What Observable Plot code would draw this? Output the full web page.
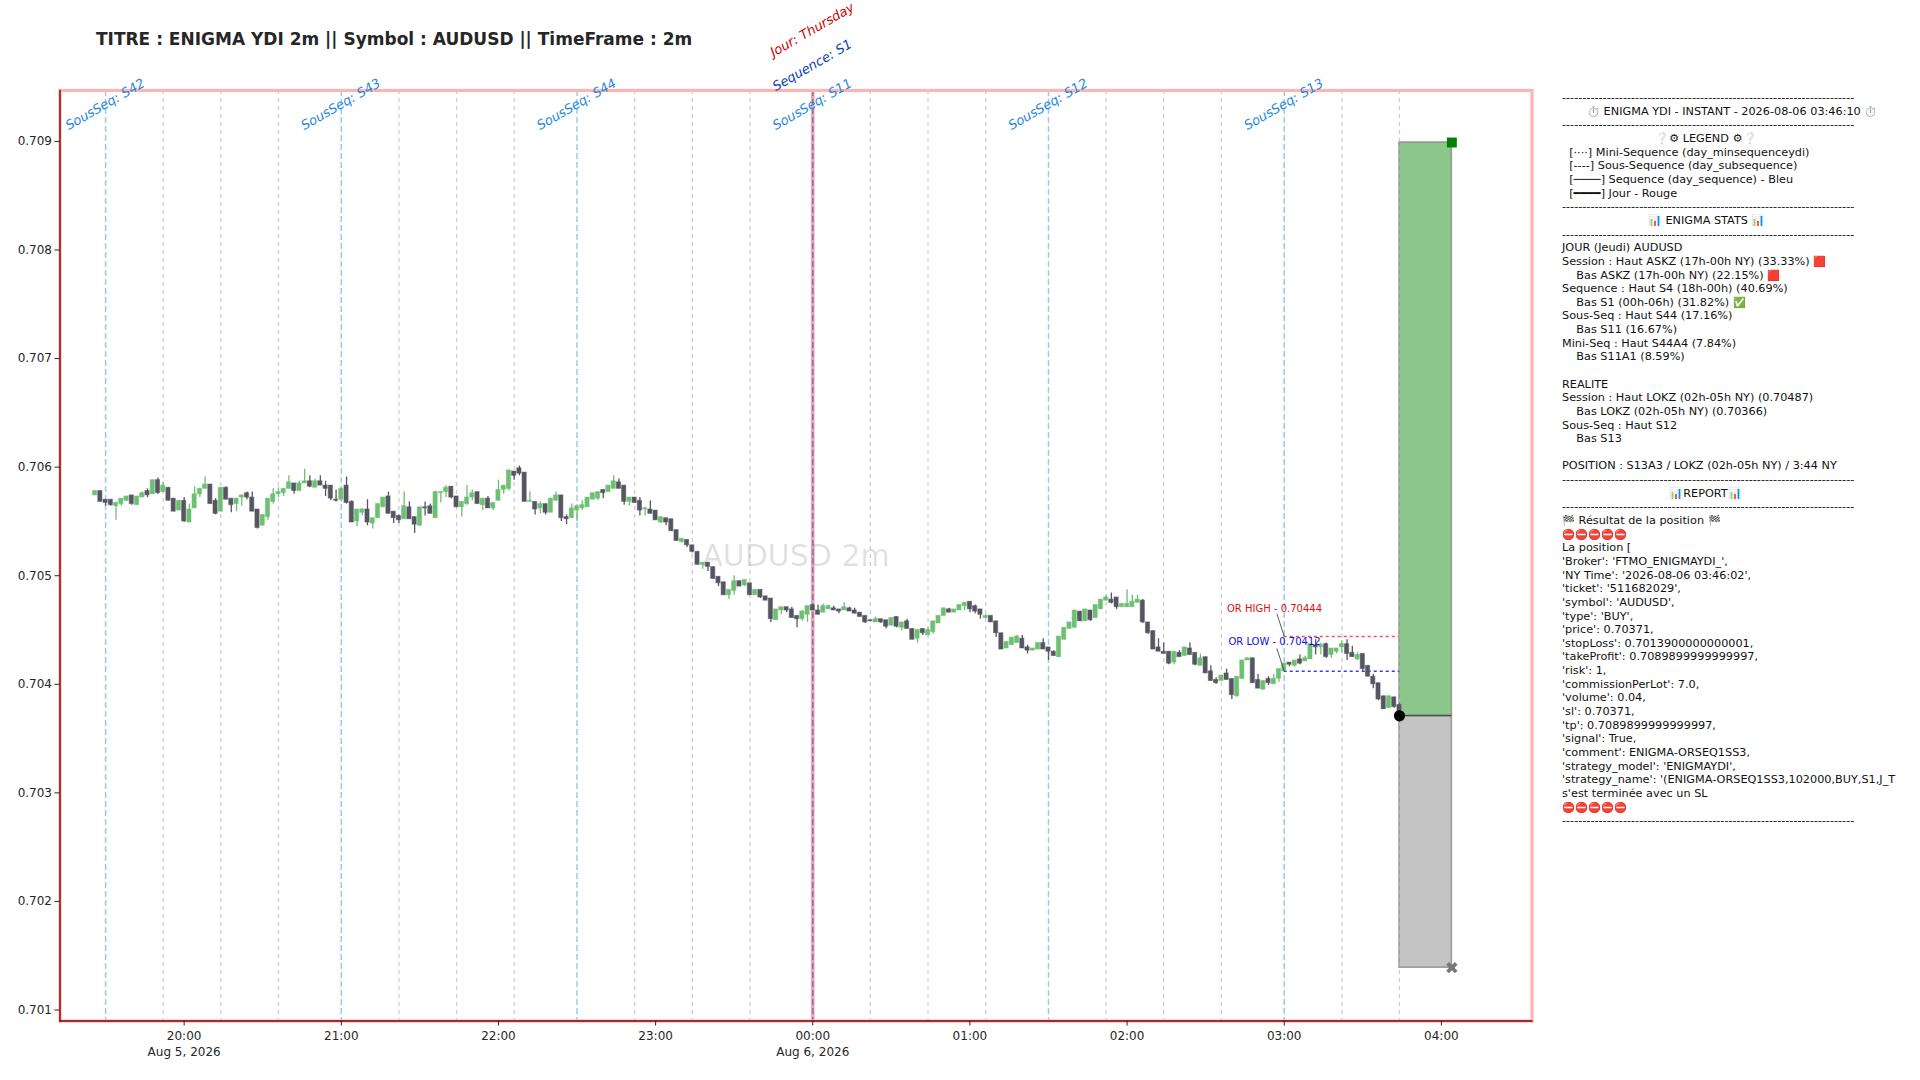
<!DOCTYPE html>
<html><head><meta charset="utf-8">
<script src="https://cdn.jsdelivr.net/npm/d3@7"></script>
<script src="https://cdn.jsdelivr.net/npm/@observablehq/plot@0.6"></script>
<style>
html,body{margin:0;padding:0;background:#fff;font-family:"DejaVu Sans",sans-serif}
#wrap{position:relative;width:1920px;height:1080px;overflow:hidden}
#chart{position:absolute;left:0;top:0}
#title{position:absolute;left:96px;top:29px;font-size:17px;font-weight:bold;color:#262626;white-space:pre;line-height:20px}
#panel{position:absolute;left:1562px;top:91.2px;font-size:11.25px;line-height:13.65px;color:#111}
#panel div{white-space:pre;height:13.65px}
#panel span{font-size:10.4px}
</style></head><body>
<div id="wrap"><div id="chart"></div><div id="title"></div><div id="panel"></div></div>
<script>
const titleText = "TITRE : ENIGMA YDI 2m || Symbol : AUDUSD || TimeFrame : 2m";
const watermark = "AUDUSD 2m";
const firstCandle = Date.UTC(2026,7,5,19,26);
const candleStepMinutes = 2;
const open = [70574,70578,70570,70570,70564,70566,70569,70574,70565,70572,70578,70575,70588,70577,70581,70571,70560,70569,70549,70562,70575,70580,70584,70569,70559,70581,70571,70566,70572,70576,70572,70561,70546,70554,70568,70575,70576,70580,70585,70578,70585,70587,70581,70587,70583,70583,70570,70570,70583,70568,70550,70558,70561,70548,70553,70563,70573,70559,70555,70552,70563,70554,70546,70563,70564,70553,70576,70577,70582,70573,70563,70566,70572,70577,70565,70571,70562,70569,70579,70580,70596,70599,70595,70568,70568,70562,70566,70558,70569,70574,70554,70553,70560,70562,70563,70570,70571,70579,70577,70580,70586,70583,70568,70572,70569,70561,70561,70560,70549,70553,70552,70542,70531,70533,70528,70522,70510,70512,70508,70499,70494,70482,70486,70495,70491,70493,70482,70487,70481,70479,70459,70468,70471,70469,70463,70460,70464,70473,70468,70466,70469,70470,70469,70468,70470,70468,70466,70463,70459,70457,70460,70459,70454,70462,70452,70458,70451,70442,70451,70445,70448,70456,70463,70469,70466,70468,70472,70476,70472,70469,70461,70463,70458,70447,70433,70436,70438,70442,70434,70431,70432,70438,70434,70430,70425,70441,70451,70452,70467,70458,70468,70461,70469,70477,70478,70480,70471,70471,70471,70475,70477,70457,70449,70434,70430,70430,70420,70429,70426,70433,70429,70417,70425,70412,70404,70403,70410,70405,70389,70405,70422,70424,70404,70395,70405,70400,70405,70412,70420,70417,70423,70421,70423,70436,70434,70437,70427,70430,70434,70437,70429,70423,70428,70417,70407,70401,70389,70378,70388,70381];
const high = [70578,70578,70570,70570,70568,70571,70573,70574,70573,70577,70580,70588,70590,70586,70581,70571,70569,70572,70566,70582,70580,70591,70584,70571,70581,70582,70571,70571,70574,70577,70577,70561,70556,70571,70580,70581,70580,70592,70585,70587,70598,70592,70589,70592,70587,70583,70579,70581,70591,70569,70561,70562,70570,70553,70566,70572,70577,70559,70556,70577,70568,70554,70563,70568,70566,70578,70577,70583,70582,70573,70568,70583,70579,70577,70571,70573,70567,70588,70583,70597,70596,70601,70595,70577,70568,70568,70566,70571,70577,70574,70556,70566,70564,70569,70572,70576,70577,70579,70583,70592,70589,70583,70572,70572,70572,70563,70569,70560,70554,70553,70552,70542,70534,70533,70528,70522,70512,70512,70508,70499,70494,70487,70500,70495,70496,70493,70487,70487,70481,70479,70469,70471,70471,70471,70463,70468,70472,70473,70473,70474,70473,70472,70469,70475,70471,70470,70466,70463,70459,70462,70460,70459,70461,70462,70457,70460,70451,70450,70451,70452,70458,70463,70470,70470,70469,70473,70475,70476,70473,70469,70464,70463,70458,70447,70439,70443,70445,70445,70436,70433,70438,70442,70434,70431,70444,70452,70457,70468,70467,70469,70468,70473,70478,70482,70484,70480,70474,70487,70482,70482,70478,70457,70449,70442,70438,70430,70430,70431,70434,70438,70429,70428,70425,70417,70406,70408,70414,70405,70407,70422,70424,70424,70409,70403,70407,70409,70414,70419,70420,70422,70427,70426,70437,70441,70438,70438,70433,70433,70440,70441,70435,70429,70428,70417,70409,70401,70389,70389,70388,70382];
const low = [70574,70568,70564,70564,70551,70564,70569,70565,70565,70572,70572,70575,70575,70577,70569,70559,70560,70549,70549,70562,70572,70580,70566,70556,70559,70570,70558,70559,70564,70570,70559,70543,70546,70551,70566,70572,70573,70580,70575,70578,70585,70581,70581,70583,70573,70569,70568,70568,70566,70549,70545,70555,70546,70543,70553,70563,70557,70548,70548,70552,70552,70539,70546,70555,70557,70553,70567,70572,70571,70563,70554,70565,70569,70566,70560,70562,70560,70569,70575,70578,70588,70592,70568,70568,70556,70557,70556,70558,70569,70550,70547,70553,70550,70560,70563,70570,70569,70571,70577,70580,70580,70565,70564,70567,70555,70555,70557,70551,70548,70546,70541,70532,70530,70526,70521,70510,70506,70504,70497,70490,70482,70478,70482,70490,70490,70482,70482,70479,70477,70457,70459,70464,70466,70461,70452,70458,70457,70468,70464,70466,70469,70468,70465,70468,70467,70465,70462,70456,70458,70457,70456,70451,70454,70452,70449,70451,70441,70438,70445,70445,70446,70456,70463,70466,70466,70468,70468,70466,70465,70460,70461,70457,70443,70432,70433,70436,70438,70433,70428,70431,70432,70432,70422,70426,70425,70441,70451,70452,70458,70458,70458,70461,70469,70477,70474,70469,70471,70471,70471,70475,70456,70446,70432,70430,70428,70418,70418,70425,70426,70427,70417,70417,70410,70403,70400,70403,70404,70386,70388,70405,70422,70401,70396,70395,70399,70400,70402,70412,70416,70416,70418,70421,70423,70427,70427,70424,70424,70428,70429,70422,70425,70422,70412,70407,70396,70385,70377,70378,70378,70370];
const close = [70578,70568,70567,70565,70567,70571,70573,70566,70573,70576,70574,70588,70576,70583,70569,70559,70569,70550,70561,70575,70580,70584,70566,70557,70581,70570,70565,70571,70574,70572,70559,70544,70556,70571,70575,70577,70580,70586,70578,70585,70587,70582,70587,70583,70580,70571,70569,70580,70567,70549,70561,70561,70549,70553,70566,70572,70557,70553,70551,70564,70552,70547,70563,70562,70557,70577,70577,70581,70572,70563,70568,70572,70576,70566,70571,70562,70567,70579,70583,70597,70592,70594,70568,70569,70561,70566,70558,70571,70574,70553,70552,70562,70564,70565,70572,70576,70577,70576,70583,70587,70580,70568,70572,70567,70560,70562,70557,70551,70554,70549,70541,70532,70534,70528,70522,70510,70512,70508,70497,70493,70482,70487,70495,70490,70496,70482,70487,70480,70477,70460,70469,70471,70468,70461,70460,70467,70472,70468,70464,70472,70472,70468,70467,70471,70467,70465,70462,70457,70458,70460,70457,70453,70461,70453,70457,70451,70441,70450,70447,70450,70458,70463,70470,70466,70469,70473,70475,70469,70467,70464,70463,70457,70447,70432,70439,70443,70444,70433,70431,70433,70438,70432,70430,70426,70444,70452,70457,70468,70458,70469,70459,70473,70478,70480,70475,70471,70474,70474,70476,70478,70457,70447,70432,70430,70428,70419,70430,70425,70434,70427,70418,70424,70410,70403,70401,70408,70404,70390,70407,70422,70424,70401,70396,70403,70401,70405,70414,70419,70418,70422,70419,70424,70437,70434,70436,70425,70433,70433,70437,70428,70425,70427,70414,70407,70400,70386,70377,70389,70379,70372];

const utc = (d,h,m)=>new Date(Date.UTC(2026,7,d,h,0)+m*60000);
const yTicks = [0.701,0.702,0.703,0.704,0.705,0.706,0.707,0.708,0.709];
const xTicks = [utc(5,20,0),utc(5,21,0),utc(5,22,0),utc(5,23,0),utc(6,0,0),utc(6,1,0),utc(6,2,0),utc(6,3,0),utc(6,4,0)];
const miniTimes = [utc(5,19,52),utc(5,20,14),utc(5,20,36),utc(5,21,22),utc(5,21,44),utc(5,22,6),utc(5,22,52),utc(5,23,14),utc(5,23,36),utc(6,0,22),utc(6,0,44),utc(6,1,6),utc(6,1,52),utc(6,2,14),utc(6,2,36),utc(6,3,22),utc(6,3,44)];
const subNames = ["SousSeq: S42","SousSeq: S43","SousSeq: S44","SousSeq: S11","SousSeq: S12","SousSeq: S13"];
const subTimes = [utc(5,19,30),utc(5,21,0),utc(5,22,30),utc(6,0,0),utc(6,1,30),utc(6,3,0)];
const midnight = utc(6,0,0);
const entryTime = utc(6,3,44), endTime = utc(6,4,4), orStart = utc(6,3,0);
const entryPrice = 0.70371, slPrice = 0.70139, tpPrice = 0.70899, orHigh = 0.70444, orLow = 0.70412;

const rule = "-".repeat(72);
const panelLines = [
rule,
"       ⏱️ ENIGMA YDI - INSTANT - 2026-08-06 03:46:10 ⏱️",
rule,
"                          ❔⚙ LEGEND ⚙❔",
"  [····] Mini-Sequence (day_minsequenceydi)",
"  [----] Sous-Sequence (day_subsequence)",
"  [────] Sequence (day_sequence) - Bleu",
"  [━━━━] Jour - Rouge",
rule,
"                        📊 ENIGMA STATS 📊",
rule,
"JOUR (Jeudi) AUDUSD",
"Session : Haut ASKZ (17h-00h NY) (33.33%) 🟥",
"    Bas ASKZ (17h-00h NY) (22.15%) 🟥",
"Sequence : Haut S4 (18h-00h) (40.69%)",
"    Bas S1 (00h-06h) (31.82%) ✅",
"Sous-Seq : Haut S44 (17.16%)",
"    Bas S11 (16.67%)",
"Mini-Seq : Haut S44A4 (7.84%)",
"    Bas S11A1 (8.59%)",
" ",
"REALITE",
"Session : Haut LOKZ (02h-05h NY) (0.70487)",
"    Bas LOKZ (02h-05h NY) (0.70366)",
"Sous-Seq : Haut S12",
"    Bas S13",
" ",
"POSITION : S13A3 / LOKZ (02h-05h NY) / 3:44 NY",
rule,
"                              📊REPORT📊",
rule,
"🏁 Résultat de la position 🏁",
"⛔⛔⛔⛔⛔",
"La position [",
"'Broker': 'FTMO_ENIGMAYDI_',",
"'NY Time': '2026-08-06 03:46:02',",
"'ticket': '511682029',",
"'symbol': 'AUDUSD',",
"'type': 'BUY',",
"'price': 0.70371,",
"'stopLoss': 0.7013900000000001,",
"'takeProfit': 0.7089899999999997,",
"'risk': 1,",
"'commissionPerLot': 7.0,",
"'volume': 0.04,",
"'sl': 0.70371,",
"'tp': 0.7089899999999997,",
"'signal': True,",
"'comment': ENIGMA-ORSEQ1SS3,",
"'strategy_model': 'ENIGMAYDI',",
"'strategy_name': '(ENIGMA-ORSEQ1SS3,102000,BUY,S1,J_T",
"s'est terminée avec un SL",
"⛔⛔⛔⛔⛔",
rule
];

const candles = open.map((o,i)=>({t:new Date(firstCandle+i*candleStepMinutes*60000),o:o/1e5,h:high[i]/1e5,l:low[i]/1e5,c:close[i]/1e5,up:close[i]>=o}));
const halfBody = 48000;
const UP="#6dbf72", DOWN="#565662";

const chart = Plot.plot({
  width:1920,height:1080,
  marginLeft:59.5,marginTop:90,marginRight:388.5,marginBottom:59.5,
  style:{fontFamily:"'DejaVu Sans',sans-serif",fontSize:"12px",background:"#fff",color:"#262626"},
  x:{type:"utc",domain:[utc(5,19,12.6),utc(6,4,34.6)]},
  y:{domain:[0.700899,0.709469]},
  marks:[
    Plot.text([watermark],{text:d=>d,frameAnchor:"middle",dy:1,fontSize:30,fill:"#000",fillOpacity:0.12}),
    Plot.rect([0],{x1:()=>entryTime,x2:()=>endTime,y1:()=>entryPrice,y2:()=>tpPrice,fill:"#8bc68b",stroke:"#8a8a8a",strokeOpacity:0.8,strokeWidth:1.6}),
    Plot.rect([0],{x1:()=>entryTime,x2:()=>endTime,y1:()=>slPrice,y2:()=>entryPrice,fill:"#c4c4c4",stroke:"#8a8a8a",strokeOpacity:0.8,strokeWidth:1.6}),
    Plot.ruleY([entryPrice],{x1:entryTime,x2:endTime,stroke:"#333",strokeWidth:1}),
    Plot.ruleX(miniTimes,{x:d=>d,stroke:"#b8b8b8",strokeOpacity:0.7,strokeWidth:1.3,strokeDasharray:"4,4"}),
    Plot.ruleX(subTimes,{x:d=>d,stroke:"#9ccbe8",strokeWidth:1.5,strokeDasharray:"6,3"}),
    Plot.ruleX([midnight],{x:d=>d,stroke:"#e57388",strokeOpacity:0.65,strokeWidth:3.6}),
    Plot.ruleX([midnight],{x:d=>d,stroke:"#5a5ab0",strokeOpacity:0.55,strokeWidth:1.4,strokeDasharray:"6,3"}),
    Plot.ruleY([orHigh],{x1:orStart,x2:entryTime,stroke:"#f25555",strokeWidth:1.4,strokeDasharray:"3,3"}),
    Plot.ruleY([orLow],{x1:orStart,x2:entryTime,stroke:"#3a3ae8",strokeWidth:1.4,strokeDasharray:"3,3"}),
    Plot.ruleX(candles,{x:"t",y1:"l",y2:"h",stroke:d=>d.up?UP:DOWN,strokeWidth:1.3}),
    Plot.rect(candles,{x1:d=>new Date(+d.t-halfBody),x2:d=>new Date(+d.t+halfBody),y1:"o",y2:"c",fill:d=>d.up?UP:DOWN,stroke:d=>d.up?UP:DOWN,strokeWidth:1,strokeOpacity:0.5}),
    Plot.link([0],{x1:()=>utc(6,2,57.2),y1:()=>0.70465,x2:()=>orStart,y2:()=>orHigh,stroke:"#333",strokeWidth:0.8}),
    Plot.link([0],{x1:()=>utc(6,2,57.2),y1:()=>0.70433,x2:()=>orStart,y2:()=>orLow,stroke:"#333",strokeWidth:0.8}),
    Plot.text([0],{x:()=>utc(6,2,56.3),y:()=>0.70470,text:()=>"OR HIGH - 0.70444",fill:"#e01010",fontSize:10}),
    Plot.text([0],{x:()=>utc(6,2,56.3),y:()=>0.70439,text:()=>"OR LOW - 0.70412",fill:"#1010e0",fontSize:10}),
    Plot.dot([0],{x:()=>entryTime,y:()=>entryPrice,r:5.6,fill:"#000"}),
    Plot.dot([0],{x:()=>endTime,y:()=>tpPrice,symbol:"square",r:5.6,fill:"#008000"}),
    Plot.dot([0],{x:()=>endTime,y:()=>slPrice,symbol:"times",r:4,stroke:"#777",strokeWidth:3.8}),
    Plot.frame({stroke:"#ffb3b3",strokeWidth:3.2}),
    Plot.frame({anchor:"left",stroke:"#800000",strokeWidth:1.4}),
    Plot.frame({anchor:"bottom",stroke:"#800000",strokeWidth:1.4}),
    Plot.text(subTimes,{x:d=>d,frameAnchor:"top",dx:-3,dy:9.5,rotate:-30,text:(d,i)=>subNames[i],fill:"#1e88e5",fontStyle:"italic",fontSize:13}),
    Plot.text([midnight],{x:d=>d,frameAnchor:"top",dx:-3,dy:-29.5,rotate:-30,text:()=>"Sequence: S1",fill:"#0b3fb0",fontStyle:"italic",fontSize:13}),
    Plot.text([midnight],{x:d=>d,frameAnchor:"top",dx:-3,dy:-65,rotate:-30,text:()=>"Jour: Thursday",fill:"#d00000",fontStyle:"italic",fontSize:13}),
    Plot.axisY({ticks:yTicks,tickFormat:d3.format(".3f"),anchor:"left",tickSize:5,tickPadding:3,label:null,fontSize:12}),
    Plot.axisX({ticks:xTicks,anchor:"bottom",tickSize:5,tickPadding:3.5,label:null,fontSize:12,lineHeight:1.28,
      tickFormat:d=>{const s=d3.utcFormat("%H:%M")(d);return (d.getUTCHours()===20||d.getUTCHours()===0)?s+"\n"+d3.utcFormat("%b %-d, %Y")(d):s;}})
  ]
});
document.getElementById("chart").appendChild(chart);
document.getElementById("title").textContent = titleText;
const panel = document.getElementById("panel");
for (const line of panelLines) {
  const div = document.createElement("div");
  for (const part of line.split(/(⛔|🏁|🟥|✅|⏱️)/u)) {
    if (!part) continue;
    if (/^(⛔|🏁|🟥|✅|⏱️)$/u.test(part)) { const s=document.createElement("span"); s.textContent=part; div.appendChild(s); }
    else div.appendChild(document.createTextNode(part));
  }
  panel.appendChild(div);
}
</script>
</body></html>
